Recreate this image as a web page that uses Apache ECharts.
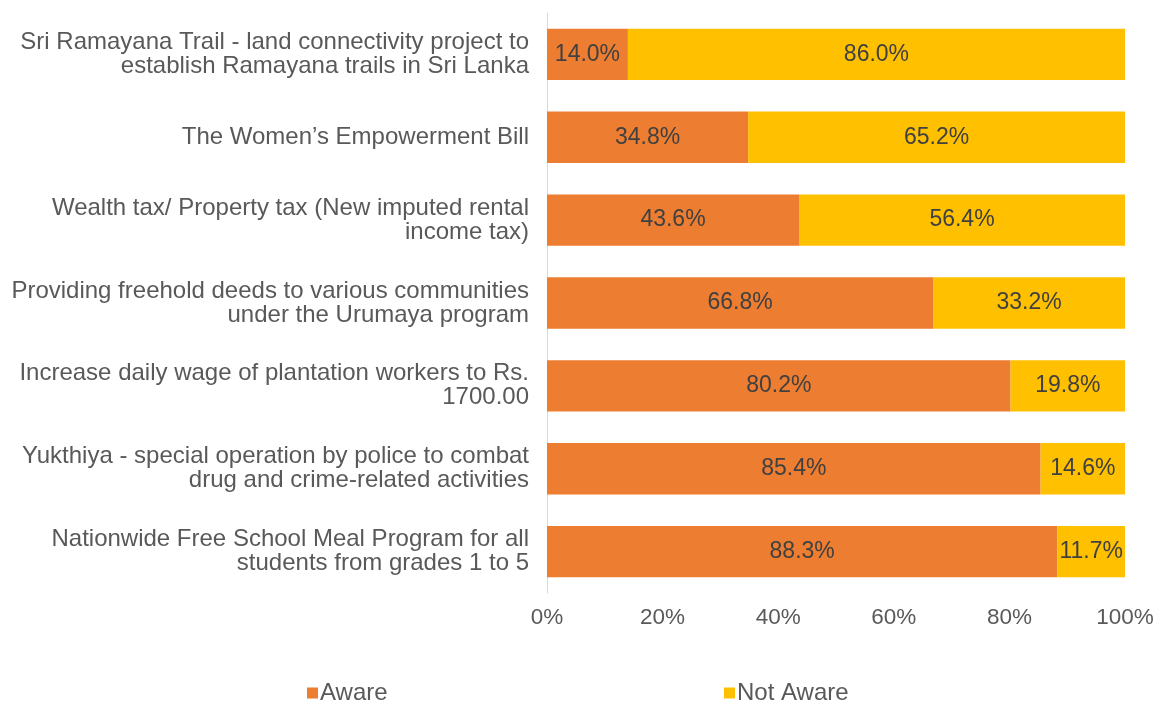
<!DOCTYPE html>
<html>
<head>
<meta charset="utf-8">
<script src="https://cdn.jsdelivr.net/npm/echarts@6/dist/echarts.min.js"></script>
<style>
  html, body { margin: 0; padding: 0; background: #fff; }
  #chart { width: 1159px; height: 702px; }
</style>
</head>
<body>
<div id="chart"></div>
<script>
const categories = [
  "Sri Ramayana Trail - land connectivity project to\nestablish Ramayana trails in Sri Lanka",
  "The Women\u2019s Empowerment Bill",
  "Wealth tax/ Property tax (New imputed rental\nincome tax)",
  "Providing freehold deeds to various communities\nunder the Urumaya program",
  "Increase daily wage of plantation workers to Rs.\n1700.00",
  "Yukthiya - special operation by police to combat\ndrug and crime-related activities",
  "Nationwide Free School Meal Program for all\nstudents from grades 1 to 5"
];
const aware = [14.0, 34.8, 43.6, 66.8, 80.2, 85.4, 88.3];
const notAware = [86.0, 65.2, 56.4, 33.2, 19.8, 14.6, 11.7];
const xTicks = [0, 20, 40, 60, 80, 100];

const font = "'Liberation Sans', Arial, sans-serif";

const chart = echarts.init(document.getElementById("chart"));
const barLabel = {
  show: true,
  position: "inside",
  color: "#404040",
  fontSize: 23,
  fontFamily: font,
  formatter: p => p.value.toFixed(1) + "%"
};

chart.setOption({
  animation: false,
  textStyle: { fontFamily: font },
  grid: { left: 547, right: 34, top: 13, bottom: 109, containLabel: false },
  legend: [
    {
      data: ["Aware"], left: 307, top: 681, padding: 0,
      itemWidth: 11, itemHeight: 11, icon: "rect",
      textStyle: { fontSize: 24, lineHeight: 24, color: "#595959", fontFamily: font, padding: [0, 0, 0, -3] }
    },
    {
      data: ["Not Aware"], left: 724, top: 681, padding: 0,
      itemWidth: 11, itemHeight: 11, icon: "rect",
      textStyle: { fontSize: 24, lineHeight: 24, color: "#595959", fontFamily: font, padding: [0, 0, 0, -3] }
    }
  ],
  xAxis: {
    type: "value",
    min: 0,
    max: 100,
    interval: 20,
    axisLine: { show: false },
    axisTick: { show: false },
    splitLine: { show: false },
    axisLabel: {
      fontSize: 22.5,
      color: "#595959",
      fontFamily: font,
      margin: 13,
      formatter: v => (xTicks.includes(v) ? v + "%" : "")
    }
  },
  yAxis: {
    type: "category",
    data: categories,
    inverse: true,
    axisLine: { show: true, lineStyle: { color: "#d9d9d9", width: 1 } },
    axisTick: { show: false },
    axisLabel: {
      fontSize: 24,
      color: "#595959",
      fontFamily: font,
      lineHeight: 24,
      margin: 18,
      align: "right"
    }
  },
  series: [
    {
      name: "Aware",
      type: "bar",
      stack: "total",
      data: aware,
      barCategoryGap: "38%",
      itemStyle: { color: "#ED7D31" },
      label: barLabel
    },
    {
      name: "Not Aware",
      type: "bar",
      stack: "total",
      data: notAware,
      itemStyle: { color: "#FFC000" },
      label: barLabel
    }
  ]
});
</script>
</body>
</html>
